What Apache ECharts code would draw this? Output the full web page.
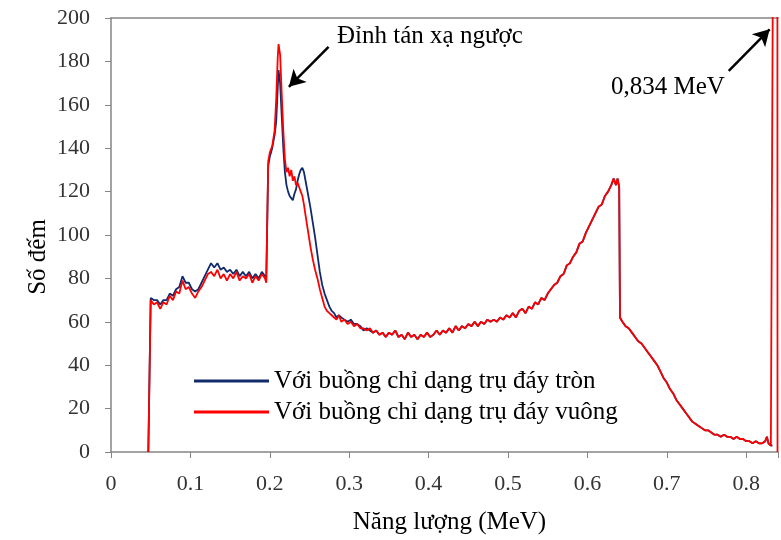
<!DOCTYPE html>
<html>
<head>
<meta charset="utf-8">
<script src="https://cdn.jsdelivr.net/npm/echarts@6/dist/echarts.min.js"></script>
<style>
  html, body { margin: 0; padding: 0; background: #fff; }
  #chart { width: 781px; height: 540px; }
</style>
</head>
<body>
<div id="chart"></div>
<script>
// energy grid (MeV) where the two spectra differ
const energyHead = [
  0.047, 0.050, 0.054, 0.058, 0.062, 0.066, 0.070, 0.074, 0.078, 0.082,
  0.086, 0.090, 0.094, 0.098, 0.102, 0.106, 0.110, 0.114, 0.118, 0.122,
  0.126, 0.130, 0.134, 0.138, 0.142, 0.146, 0.150, 0.154, 0.158, 0.162,
  0.166, 0.170, 0.174, 0.178, 0.182, 0.186, 0.190, 0.194,
  0.1955, 0.198, 0.200, 0.203, 0.206, 0.208, 0.210, 0.211, 0.213, 0.215,
  0.217, 0.219, 0.221, 0.223, 0.225, 0.227, 0.229, 0.231, 0.233, 0.235,
  0.237, 0.239, 0.241, 0.243, 0.245, 0.248, 0.251, 0.254, 0.257, 0.260,
  0.263, 0.266, 0.269, 0.272, 0.275, 0.278, 0.281, 0.284, 0.287, 0.290,
  0.294, 0.298, 0.302, 0.306, 0.310, 0.314, 0.318, 0.322, 0.326, 0.330
]
const countsRoundHead = [
  0, 71, 70, 70, 68, 70, 70, 73, 72, 75,
  76, 81, 78, 78, 75, 74, 75, 78, 81, 84,
  87, 85, 87, 84, 85, 83, 84, 82, 84, 81,
  83, 81, 83, 80, 82, 80, 83, 81,
  79, 132, 136, 140, 146, 152, 168, 176, 170, 155,
  140, 129, 123, 120, 118, 117, 116, 119, 121, 125,
  128, 130, 131, 129, 125, 119, 113, 106, 99, 91,
  83, 77, 73, 70, 67, 65, 64, 62, 63, 62,
  61, 60, 61, 59, 59, 58, 56, 57, 56, 55
]
const countsSquareHead = [
  0, 70, 68, 69, 66, 69, 68, 72, 70, 74,
  73, 79, 75, 76, 73, 71, 74, 76, 79, 82,
  83, 81, 84, 80, 82, 79, 82, 80, 83, 79,
  81, 80, 82, 78, 81, 79, 82, 80,
  78, 134, 138, 141, 148, 162, 182, 188, 183, 165,
  148, 135, 129, 131, 127, 130, 125, 127, 123, 124,
  122, 120, 118, 114, 109, 102, 95, 89, 84, 80,
  75, 71, 67, 65, 64, 63, 62, 61, 63, 60,
  61, 59, 60, 58, 59, 57, 57, 56, 57, 55
]

// part of the spectrum where both curves coincide
const energyTail = [
  0.334, 0.338, 0.342, 0.346, 0.350, 0.354, 0.358, 0.362, 0.366, 0.370,
  0.374, 0.378, 0.382, 0.386, 0.390, 0.394, 0.398, 0.402, 0.406, 0.410,
  0.414, 0.418, 0.422, 0.426, 0.430, 0.434, 0.438, 0.442, 0.446, 0.450,
  0.454, 0.458, 0.462, 0.466, 0.470, 0.474, 0.478, 0.482, 0.486, 0.490,
  0.494, 0.498, 0.502, 0.506, 0.510, 0.514, 0.518, 0.522, 0.526, 0.530,
  0.534, 0.538, 0.542, 0.546, 0.550, 0.554, 0.558, 0.562, 0.566, 0.570,
  0.574, 0.578, 0.582, 0.586, 0.590, 0.594, 0.598, 0.602, 0.606, 0.610,
  0.614, 0.618, 0.622, 0.626, 0.630, 0.633, 0.636, 0.638, 0.640, 0.641,
  0.644, 0.648, 0.652, 0.656, 0.660, 0.664, 0.668, 0.672, 0.676, 0.680,
  0.684, 0.688, 0.692, 0.696, 0.700, 0.704, 0.708, 0.712, 0.716, 0.720,
  0.724, 0.728, 0.732, 0.736, 0.740, 0.744, 0.748, 0.752, 0.756, 0.760,
  0.764, 0.768, 0.772, 0.776, 0.780, 0.784, 0.788, 0.792, 0.796, 0.800,
  0.804, 0.808, 0.812, 0.816, 0.820, 0.824, 0.826, 0.828, 0.831, 0.833
]
const countsTail = [
  56, 54, 55, 53, 55, 54, 56, 53, 54, 52,
  55, 53, 54, 52, 54, 53, 55, 53, 54, 56,
  54, 56, 55, 57, 55, 58, 56, 58, 57, 59,
  58, 60, 58, 60, 59, 61, 60, 61, 60, 62,
  61, 63, 62, 64, 62, 65, 66, 64, 67, 66,
  69, 68, 71, 70, 73, 75, 77, 78, 81, 82,
  86, 87, 90, 92, 96, 97, 101, 104, 107, 110,
  113, 114, 118, 120, 123, 126, 123, 126, 122, 62,
  60, 58, 57, 55, 53, 51, 50, 48, 46, 44,
  42, 40, 37, 34, 32, 29, 27, 24, 22, 20,
  18, 16, 14, 13, 12, 11, 10, 10, 9, 8,
  8, 7, 8, 7, 7, 6, 7, 6, 6, 5,
  5, 4, 5, 4, 4, 5, 7, 4, 3, 3
]

// 0,834 MeV line (red only)
const energyPeak = [0.8338, 0.834, 0.8392, 0.8394]
const countsPeak = [3, 260, 260, 0]

const xTicks = [0, 0.1, 0.2, 0.3, 0.4, 0.5, 0.6, 0.7, 0.8]

const zip = (xs, ys) => xs.map((x, i) => [x, ys[i]])

const roundData = zip(energyHead, countsRoundHead).concat(zip(energyTail, countsTail))
const squareData = zip(energyHead, countsSquareHead)
  .concat(zip(energyTail, countsTail))
  .concat(zip(energyPeak, countsPeak))

const font = 'Liberation Serif'
const axisGray = '#858585'

const chart = echarts.init(document.getElementById('chart'))
chart.setOption({
  animation: false,
  grid: { left: 111, right: 0, top: 18, bottom: 87 },
  legend: {
    orient: 'vertical',
    left: 189,
    top: 362,
    icon: 'rect',
    itemWidth: 75,
    itemHeight: 3,
    itemGap: 3,
    textStyle: { fontFamily: font, fontSize: 25, color: '#000', lineHeight: 28 },
    data: ['Với buồng chỉ dạng trụ đáy tròn', 'Với buồng chỉ dạng trụ đáy vuông'],
  },
  xAxis: [
    {
      type: 'value',
      min: 0,
      max: 0.84,
      interval: 0.1,
      name: 'Năng lượng (MeV)',
      nameLocation: 'middle',
      nameGap: 58,
      nameTextStyle: { fontFamily: font, fontSize: 25, color: '#000', padding: [0, 0, 0, 10] },
      axisLine: { lineStyle: { color: axisGray, width: 1.5 } },
      axisTick: { inside: false, length: 6, lineStyle: { color: axisGray } },
      axisLabel: {
        fontFamily: font,
        fontSize: 22,
        color: '#333',
        margin: 21,
        formatter: (v) => (xTicks.some((t) => Math.abs(t - v) < 1e-6) ? String(+v.toFixed(1)) : ''),
      },
      splitLine: { show: false },
    },
    {
      type: 'value',
      position: 'top',
      min: 0,
      max: 0.84,
      axisLine: { show: true, onZero: false, lineStyle: { color: axisGray, width: 1.5 } },
      axisTick: { show: false },
      axisLabel: { show: false },
      splitLine: { show: false },
    },
  ],
  yAxis: {
    type: 'value',
    min: 0,
    max: 200,
    interval: 20,
    axisLine: { show: true, lineStyle: { color: axisGray, width: 1.5 } },
    axisTick: { show: true, inside: false, length: 6, lineStyle: { color: axisGray } },
    axisLabel: { fontFamily: font, fontSize: 22, color: '#333', margin: 21 },
    splitLine: { show: false },
  },
  series: [
    {
      name: 'Với buồng chỉ dạng trụ đáy tròn',
      type: 'line',
      data: roundData,
      showSymbol: false,
      color: '#102a6b',
      lineStyle: { width: 1.8, color: '#102a6b' },
    },
    {
      name: 'Với buồng chỉ dạng trụ đáy vuông',
      type: 'line',
      data: squareData,
      showSymbol: false,
      color: '#ff0000',
      lineStyle: { width: 1.8, color: '#ff0000' },
      markLine: {
        silent: true,
        symbol: ['none', 'arrow'],
        symbolSize: [14, 16],
        label: { show: false },
        lineStyle: { color: '#000', width: 2.5, type: 'solid' },
        data: [
          [{ coord: [0.274, 186.7] }, { coord: [0.224, 168.3] }],
          [{ coord: [0.778, 175.6] }, { coord: [0.8295, 194.8] }],
        ],
      },
    },
  ],
  graphic: [
    {
      type: 'text',
      x: 38,
      y: 257,
      rotation: Math.PI / 2,
      style: {
        text: 'Số đếm',
        fontFamily: font,
        fontSize: 25,
        fill: '#000',
        align: 'center',
        verticalAlign: 'middle',
      },
    },
    {
      type: 'text',
      left: 337,
      top: 24,
      style: { text: 'Đỉnh tán xạ ngược', fontFamily: font, fontSize: 25, fill: '#000' },
    },
    {
      type: 'text',
      left: 611,
      top: 75,
      style: { text: '0,834 MeV', fontFamily: font, fontSize: 25, fill: '#000' },
    },
  ],
})
</script>
</body>
</html>
